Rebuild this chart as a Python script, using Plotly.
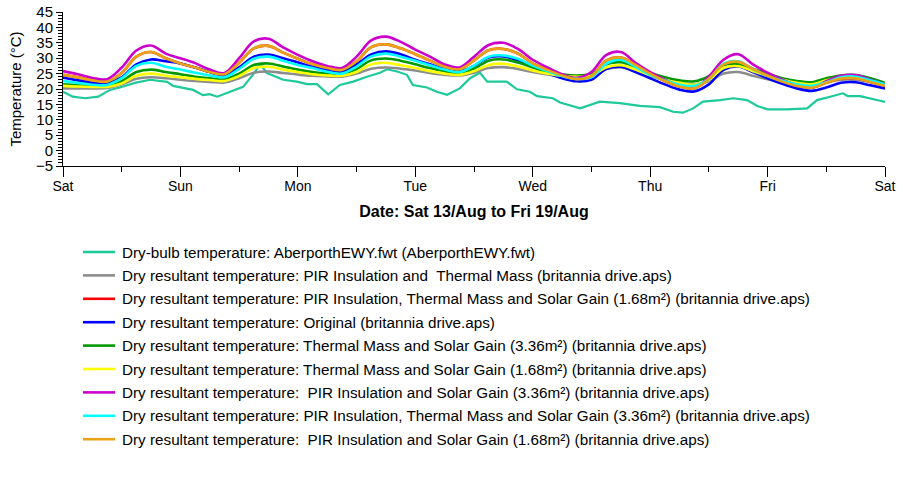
import plotly.graph_objects as go

# ---- time axis: hours from Sat 13/Aug 00:00, 3-hourly for building series ----
hours = list(range(0, 169, 3))
day_ticks = [0, 24, 48, 72, 96, 120, 144, 168]
day_labels = ["Sat", "Sun", "Mon", "Tue", "Wed", "Thu", "Fri", "Sat"]

# ---- series values (°C) ----
magenta = [25.8, 24.8, 23.6, 23.2, 27.0, 32.5, 34.1, 31.5,
           30.0, 28.4, 26.3, 25.2, 30.0, 35.5, 36.3, 33.5,
           31.1, 29.0, 27.5, 26.8, 30.5, 35.8, 37.0, 35.3,
           32.8, 30.5, 28.0, 27.0, 30.5, 34.3, 35.0, 33.0,
           29.5, 27.0, 24.8, 23.6, 25.5, 31.0, 32.0, 28.5,
           25.5, 23.0, 21.0, 20.3, 24.0, 29.5, 31.3, 28.0,
           25.3, 23.0, 21.3, 20.5, 22.5, 24.3, 24.5, 23.0, 21.5]
orange = [24.6, 23.8, 22.8, 22.4, 25.2, 30.5, 32.0, 30.0,
          28.3, 27.0, 25.5, 24.8, 28.5, 33.2, 34.0, 31.8,
          29.8, 28.0, 26.8, 26.2, 29.0, 33.6, 34.5, 33.2,
          31.3, 29.2, 27.2, 26.4, 29.3, 32.6, 33.0, 31.5,
          28.3, 26.2, 24.4, 23.2, 24.2, 29.2, 30.2, 27.8,
          25.0, 22.6, 20.8, 20.2, 23.3, 28.0, 28.8, 26.5,
          24.3, 22.4, 21.0, 20.4, 22.0, 23.4, 23.5, 22.3, 21.0]
red = [24.6, 23.8, 22.8, 22.4, 25.2, 30.5, 32.0, 30.0,
       28.3, 27.0, 25.5, 24.8, 28.5, 33.2, 34.0, 31.8,
       29.8, 28.0, 26.8, 26.2, 29.0, 33.6, 34.5, 33.2,
       31.3, 29.2, 27.2, 26.4, 29.3, 32.6, 33.0, 31.5,
       28.3, 26.2, 24.4, 23.2, 24.2, 29.2, 30.2, 27.8,
       25.0, 22.6, 20.8, 20.2, 23.3, 28.0, 28.8, 26.5,
       24.3, 22.4, 21.0, 20.4, 22.0, 23.4, 23.5, 22.3, 21.0]
blue = [23.7, 22.8, 22.0, 21.9, 23.8, 28.0, 29.6, 29.0,
        28.3, 27.0, 25.5, 24.4, 27.0, 30.5, 31.2, 30.0,
        28.6, 27.2, 26.2, 25.7, 28.0, 31.2, 32.2, 31.3,
        29.5, 28.0, 26.4, 25.7, 27.5, 30.2, 30.6, 29.3,
        27.4, 25.2, 23.5, 22.5, 23.0, 26.5, 27.2, 25.5,
        23.5, 21.5, 19.8, 19.2, 21.5, 26.2, 27.3, 25.5,
        23.5, 21.7, 20.2, 19.4, 20.5, 22.0, 22.2, 21.2, 20.2]
cyan = [22.6, 22.0, 21.4, 21.3, 23.5, 27.5, 28.5, 27.2,
        26.3, 25.3, 24.4, 23.8, 26.5, 29.8, 30.5, 29.2,
        27.8, 26.8, 25.6, 25.0, 27.3, 30.6, 31.5, 30.5,
        29.2, 27.7, 26.3, 25.5, 27.6, 30.5, 30.9, 29.8,
        27.6, 25.8, 24.2, 23.3, 23.8, 28.2, 29.5, 27.2,
        24.6, 22.8, 21.4, 21.0, 23.2, 28.2, 29.0, 26.5,
        24.2, 22.7, 21.5, 21.0, 22.2, 23.8, 24.0, 22.8, 21.5]
green = [21.5, 21.2, 21.0, 21.0, 22.5, 25.5, 26.3, 25.5,
         24.8, 24.0, 23.5, 23.2, 25.0, 27.8, 28.3, 27.3,
         26.3, 25.5, 25.0, 24.8, 26.5, 29.3, 29.9, 29.2,
         28.0, 26.8, 25.7, 25.0, 26.6, 29.2, 29.6, 28.6,
         27.0, 25.6, 24.8, 24.4, 25.0, 28.0, 28.7, 27.2,
         25.3, 23.8, 22.8, 22.5, 24.2, 27.8, 28.0, 26.5,
         25.0, 23.5, 22.6, 22.2, 23.5, 24.4, 24.5, 23.5, 22.0]
yellow = [21.0, 20.8, 20.7, 20.7, 21.8, 24.3, 25.0, 24.3,
          23.8, 23.3, 22.9, 22.6, 24.2, 26.8, 27.2, 26.3,
          25.5, 24.8, 24.4, 24.3, 25.5, 28.0, 28.5, 27.7,
          26.8, 25.8, 25.0, 24.6, 25.8, 27.8, 28.2, 27.3,
          26.0, 25.0, 24.3, 24.0, 24.3, 27.0, 27.7, 26.3,
          24.5, 23.0, 22.0, 21.4, 23.0, 26.8, 27.4, 25.8,
          24.3, 23.0, 22.0, 21.5, 22.8, 23.6, 23.6, 22.6, 21.5]
gray = [20.2, 20.2, 20.2, 20.3, 21.5, 23.3, 23.8, 23.5,
        23.0, 22.6, 22.3, 22.1, 23.5, 25.3, 25.7, 25.2,
        24.7, 24.3, 24.1, 24.0, 25.0, 26.6, 27.0, 26.6,
        26.0, 25.2, 24.6, 24.4, 25.3, 26.8, 27.1, 26.5,
        25.5, 24.7, 24.2, 24.0, 24.3, 26.5, 27.0, 25.8,
        24.2, 23.0, 22.0, 21.5, 22.5, 25.0, 25.5, 24.3,
        23.2, 22.3, 21.7, 21.4, 22.2, 23.0, 23.0, 22.3, 21.3]

# dry-bulb (outdoor) temperature, irregular readings
drybulb_hours = [0, 2.0, 4.5, 7.2, 9.6, 11.6, 14.7, 17.8, 21.3, 22.5, 26.6, 28.6, 30.0, 31.5,
                 33.5, 36.8, 38.8, 40.3, 41.7, 45.0, 47.8, 49.9, 51.9, 54.2, 56.6, 59.3,
                 62.1, 64.8, 66.2, 68.3, 70.3, 71.5, 74.4, 76.4, 78.5, 81.1, 83.2, 85.2,
                 86.7, 90.7, 92.8, 95.4, 96.9, 100.1, 101.6, 105.7, 109.7, 113.8, 117.9,
                 122.0, 124.7, 126.7, 128.8, 130.8, 134.3, 137.0, 139.8, 141.9, 144.0,
                 148.0, 152.1, 154.1, 156.8, 159.4, 160.4, 162.9, 167.0, 168.0]
drybulb = [19.1, 17.5, 17.0, 17.5, 19.7, 20.5, 22.0, 23.0, 22.3, 21.0, 19.7, 18.0, 18.3, 17.5,
           18.7, 20.7, 24.6, 28.0, 25.2, 23.0, 22.4, 21.6, 21.6, 18.3, 21.3, 22.4,
           24.0, 25.3, 26.4, 25.7, 24.6, 21.3, 20.5, 19.1, 18.1, 20.2, 23.5, 25.3,
           22.4, 22.4, 19.9, 19.1, 17.7, 17.0, 15.6, 13.7, 15.9, 15.4, 14.5,
           14.1, 12.6, 12.3, 13.7, 15.9, 16.4, 17.0, 16.4, 14.5, 13.4,
           13.4, 13.7, 16.4, 17.5, 18.6, 17.7, 17.7, 16.2, 15.8]

names = [
    "Dry-bulb temperature: AberporthEWY.fwt (AberporthEWY.fwt)",
    "Dry resultant temperature: PIR Insulation and  Thermal Mass (britannia drive.aps)",
    "Dry resultant temperature: PIR Insulation, Thermal Mass and Solar Gain (1.68m²) (britannia drive.aps)",
    "Dry resultant temperature: Original (britannia drive.aps)",
    "Dry resultant temperature: Thermal Mass and Solar Gain (3.36m²) (britannia drive.aps)",
    "Dry resultant temperature: Thermal Mass and Solar Gain (1.68m²) (britannia drive.aps)",
    "Dry resultant temperature:  PIR Insulation and Solar Gain (3.36m²) (britannia drive.aps)",
    "Dry resultant temperature: PIR Insulation, Thermal Mass and Solar Gain (3.36m²) (britannia drive.aps)",
    "Dry resultant temperature:  PIR Insulation and Solar Gain (1.68m²) (britannia drive.aps)",
]
colors = ["#1ec99a", "#8c8c8c", "#ff0000", "#0000ff", "#009900",
          "#ffff00", "#cc00cc", "#00ffff", "#e8a317"]
series = [None, gray, red, blue, green, yellow, magenta, cyan, orange]

fig = go.Figure()
for i, (nm, col, vals) in enumerate(zip(names, colors, series)):
    if i == 0:
        fig.add_trace(go.Scatter(x=drybulb_hours, y=drybulb, mode="lines", name=nm,
                                 line=dict(color=col, width=2.2), showlegend=False))
    else:
        fig.add_trace(go.Scatter(x=hours, y=vals, mode="lines", name=nm,
                                 line=dict(color=col, width=2.6, shape="spline", smoothing=1.0),
                                 showlegend=False))

W, H = 903, 477
PL, PR, PT, PB = 63, 885, 12, 166   # plot area in pixels

def px_x(px):
    return (px - PL) / (PR - PL)
def px_y(py):
    return (PB - py) / (PB - PT)

# ---- manual legend below the chart (pixel layout converted to paper coords) ----
row0, row_step = 252, 23.4
for i, (nm, col) in enumerate(zip(names, colors)):
    yc = row0 + i * row_step
    fig.add_shape(type="line", xref="paper", yref="paper",
                  x0=px_x(83), x1=px_x(115), y0=px_y(yc), y1=px_y(yc),
                  line=dict(color=col, width=2.6))
    fig.add_annotation(text=nm, xref="paper", yref="paper", x=px_x(120), y=px_y(yc),
                       xanchor="left", yanchor="middle", showarrow=False,
                       font=dict(size=15.25, color="black"))

font_family = "Liberation Sans, Arial, sans-serif"
fig.update_layout(
    width=W, height=H,
    margin=dict(l=PL, r=W - PR, t=PT, b=H - PB),
    paper_bgcolor="white", plot_bgcolor="white",
    font=dict(family=font_family, size=14, color="black"),
    showlegend=False,
    hovermode=False,
    xaxis=dict(range=[0, 168], tickvals=day_ticks, ticktext=day_labels, automargin=False,
               showgrid=False, zeroline=False, showline=True, linecolor="black", linewidth=1,
               ticks="outside", ticklen=10, tickcolor="black", ticklabeloverflow="allow",
               ticklabelstandoff=-3,
               minor=dict(dtick=12, tick0=0, ticks="outside", ticklen=5, tickcolor="black"),
               tickfont=dict(size=14),
               title=dict(text="<b>Date: Sat 13/Aug to Fri 19/Aug</b>", font=dict(size=16), standoff=13)),
    yaxis=dict(range=[-5, 45], dtick=5, tick0=0, automargin=False,
               showgrid=False, zeroline=False, showline=True, linecolor="black", linewidth=1,
               ticks="outside", ticklen=6, tickcolor="black", ticklabeloverflow="allow",
               minor=dict(dtick=1, ticks="outside", ticklen=4, tickcolor="black"),
               tickfont=dict(size=15),
               title=dict(text="Temperature (°C)", font=dict(size=15), standoff=10)),
)

# remove the page's default 8px body margin so the figure fills the window exactly
fig.write_html("out.html",
               config={"displayModeBar": False},
               post_script="document.body.style.margin='0';document.body.style.overflow='hidden';")
